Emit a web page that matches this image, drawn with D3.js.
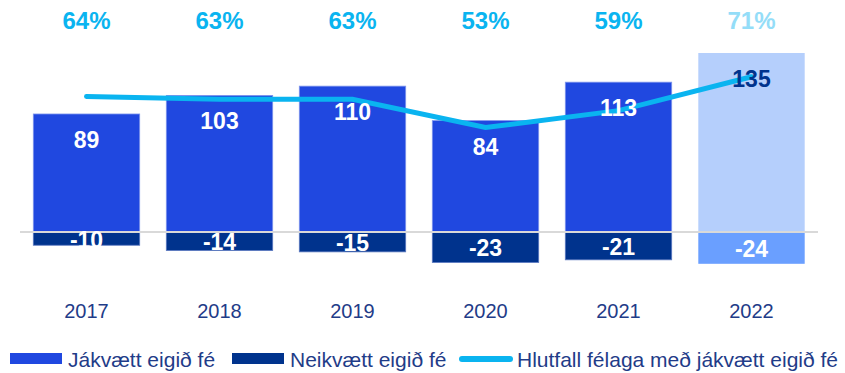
<!DOCTYPE html>
<html>
<head>
<meta charset="utf-8">
<script src="https://cdn.jsdelivr.net/npm/d3@7"></script>
<style>
  html, body { margin: 0; padding: 0; background: #fff; }
  svg { display: block; font-family: "Liberation Sans", Arial, sans-serif; }
</style>
</head>
<body>
<svg id="chart" width="845" height="373"></svg>
<script>
// Fjöldi félaga með jákvætt / neikvætt eigið fé og hlutfall
const years = ["2017", "2018", "2019", "2020", "2021", "2022"];
const positive = [89, 103, 110, 84, 113, 135];
const negative = [-10, -14, -15, -23, -21, -24];
const sharePct = [64, 63, 63, 53, 59, 71];
const legendLabels = ["Jákvætt eigið fé", "Neikvætt eigið fé", "Hlutfall félaga með jákvætt eigið fé"];

const colPos = "#2048E0", colNeg = "#00338D", colLine = "#0AB4F0";
const colPosLast = "#B5CFFC", colNegLast = "#6A9FFF", colPctLast = "#94DDF8";
const navy = "#1F3C88";

const svg = d3.select("#chart");

const x = d3.scaleBand().domain(years).range([20, 818]).paddingInner(0.2).paddingOuter(0.1);
const y = d3.scaleLinear().domain([-24, 135]).range([263.8, 53]);
const yPct = d3.scaleLinear().domain([0, 100]).range([277, -5]);

const isLast = (i) => i === years.length - 1;

// positive bars
svg.append("g").selectAll("rect").data(positive).join("rect")
  .attr("x", (d, i) => x(years[i]))
  .attr("width", x.bandwidth())
  .attr("y", d => y(d))
  .attr("height", d => y(0) - y(d))
  .attr("fill", (d, i) => isLast(i) ? colPosLast : colPos)
  .attr("stroke", (d, i) => isLast(i) ? "none" : "#7E95EC")
  .attr("stroke-width", 0.8);

// negative bars
svg.append("g").selectAll("rect").data(negative).join("rect")
  .attr("x", (d, i) => x(years[i]))
  .attr("width", x.bandwidth())
  .attr("y", y(0))
  .attr("height", d => y(d) - y(0))
  .attr("fill", (d, i) => isLast(i) ? colNegLast : colNeg)
  .attr("stroke", (d, i) => isLast(i) ? "none" : "#5A78C0")
  .attr("stroke-width", 0.8);

// zero line
svg.append("line")
  .attr("x1", 20).attr("x2", 818)
  .attr("y1", y(0)).attr("y2", y(0))
  .attr("stroke", "#D9D9D9").attr("stroke-width", 2);

// share line
const line = d3.line()
  .x((d, i) => x(years[i]) + x.bandwidth() / 2)
  .y(d => yPct(d));
svg.append("path")
  .datum(sharePct)
  .attr("d", line)
  .attr("fill", "none")
  .attr("stroke", colLine)
  .attr("stroke-width", 5)
  .attr("stroke-linecap", "round")
  .attr("stroke-linejoin", "miter");

// value labels on positive bars
svg.append("g").selectAll("text").data(positive).join("text")
  .attr("x", (d, i) => x(years[i]) + x.bandwidth() / 2)
  .attr("y", d => y(d) + 26)
  .attr("text-anchor", "middle")
  .attr("dominant-baseline", "central")
  .attr("font-size", 23).attr("font-weight", "bold")
  .attr("fill", (d, i) => isLast(i) ? colNeg : "#fff")
  .text(d => d);

// value labels on negative bars
svg.append("g").selectAll("text").data(negative).join("text")
  .attr("x", (d, i) => x(years[i]) + x.bandwidth() / 2)
  .attr("y", d => (y(d) + y(0)) / 2 + 1)
  .attr("text-anchor", "middle")
  .attr("dominant-baseline", "central")
  .attr("font-size", 23).attr("font-weight", "bold")
  .attr("fill", "#fff")
  .text(d => d);

// percentage labels on top
svg.append("g").selectAll("text").data(sharePct).join("text")
  .attr("x", (d, i) => x(years[i]) + x.bandwidth() / 2)
  .attr("y", 20)
  .attr("text-anchor", "middle")
  .attr("dominant-baseline", "central")
  .attr("font-size", 24).attr("font-weight", "bold")
  .attr("fill", (d, i) => isLast(i) ? colPctLast : colLine)
  .text(d => d + "%");

// year axis
const xAxis = svg.append("g")
  .attr("transform", "translate(0,311)")
  .call(d3.axisBottom(x).tickSize(0).tickPadding(0));
xAxis.select(".domain").remove();
xAxis.selectAll("text")
  .attr("dy", null)
  .attr("dominant-baseline", "central")
  .attr("font-size", 20)
  .attr("font-family", "Liberation Sans, Arial, sans-serif")
  .attr("fill", navy);

// legend
const legend = svg.append("g").attr("transform", "translate(0,359)");
const items = [
  { x: 10, type: "rect", color: colPos, label: legendLabels[0] },
  { x: 232, type: "rect", color: colNeg, label: legendLabels[1] },
  { x: 459, type: "line", color: colLine, label: legendLabels[2] }
];
items.forEach(it => {
  if (it.type === "rect") {
    legend.append("rect").attr("x", it.x).attr("y", -6).attr("width", 52).attr("height", 11).attr("fill", it.color);
  } else {
    legend.append("line").attr("x1", it.x + 3).attr("x2", it.x + 51).attr("y1", 0).attr("y2", 0)
      .attr("stroke", it.color).attr("stroke-width", 6).attr("stroke-linecap", "round");
  }
  legend.append("text")
    .attr("x", it.x + 58).attr("y", 0)
    .attr("dominant-baseline", "central")
    .attr("font-size", 21)
    .attr("fill", navy)
    .text(it.label);
});
</script>
</body>
</html>
